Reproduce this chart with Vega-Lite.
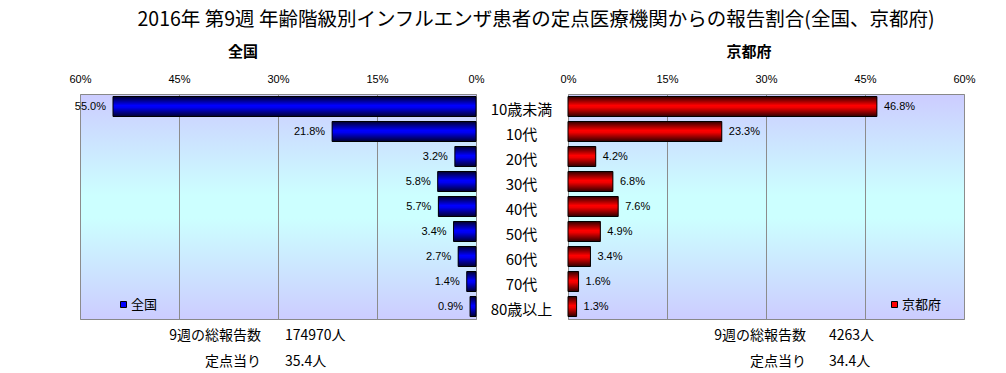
{
  "$schema": "https://vega.github.io/schema/vega-lite/v6.json",
  "background": "white",
  "padding": {"left": 68, "top": 10, "right": 5, "bottom": 0},
  "title": {"text": "2016年 第9週 年齢階級別インフルエンザ患者の定点医療機関からの報告割合(全国、京都府)", "anchor": "middle", "dx": 14, "font": "Noto Sans CJK JP", "fontSize": 19.5, "fontWeight": "normal", "color": "#000", "offset": 14},
  "datasets": {
    "main": [
      {"region": "全国", "age": "10歳未満", "pct": 0.550},
      {"region": "全国", "age": "10代", "pct": 0.218},
      {"region": "全国", "age": "20代", "pct": 0.032},
      {"region": "全国", "age": "30代", "pct": 0.058},
      {"region": "全国", "age": "40代", "pct": 0.057},
      {"region": "全国", "age": "50代", "pct": 0.034},
      {"region": "全国", "age": "60代", "pct": 0.027},
      {"region": "全国", "age": "70代", "pct": 0.014},
      {"region": "全国", "age": "80歳以上", "pct": 0.009},
      {"region": "京都府", "age": "10歳未満", "pct": 0.468},
      {"region": "京都府", "age": "10代", "pct": 0.233},
      {"region": "京都府", "age": "20代", "pct": 0.042},
      {"region": "京都府", "age": "30代", "pct": 0.068},
      {"region": "京都府", "age": "40代", "pct": 0.076},
      {"region": "京都府", "age": "50代", "pct": 0.049},
      {"region": "京都府", "age": "60代", "pct": 0.034},
      {"region": "京都府", "age": "70代", "pct": 0.016},
      {"region": "京都府", "age": "80歳以上", "pct": 0.013}
    ],
    "totals": [
      {"region": "全国", "line": "1", "part": "label", "text": "9週の総報告数"},
      {"region": "全国", "line": "1", "part": "value", "text": "174970人"},
      {"region": "全国", "line": "2", "part": "label", "text": "定点当り"},
      {"region": "全国", "line": "2", "part": "value", "text": "35.4人"},
      {"region": "京都府", "line": "1", "part": "label", "text": "9週の総報告数"},
      {"region": "京都府", "line": "1", "part": "value", "text": "4263人"},
      {"region": "京都府", "line": "2", "part": "label", "text": "定点当り"},
      {"region": "京都府", "line": "2", "part": "value", "text": "34.4人"}
    ]
  },
  "bounds": "flush",
  "columns": 2,
  "spacing": {"row": 4, "column": 92},
  "resolve": {"scale": {"color": "independent"}, "legend": {"color": "independent"}},
  "concat": [
    {
      "width": 396, "height": 225,
      "data": {"name": "main"},
      "transform": [{"filter": "datum.region === '全国'"}],
      "title": {"text": "全国", "dx": -35, "font": "Noto Sans CJK JP", "fontSize": 15, "fontWeight": "bold", "color": "#000", "offset": 13},
      "encoding": {
        "y": {"field": "age", "type": "nominal", "sort": null, "scale": {"paddingInner": 0.2, "paddingOuter": 0.1},
          "axis": {"orient": "right", "title": null, "ticks": false, "domain": false, "grid": false, "labelAlign": "center", "labelBaseline": "middle", "labelPadding": 45, "labelOffset": 3, "labelFont": "Noto Sans CJK JP", "labelFontSize": 15, "labelColor": "#000"}},
        "x": {"field": "pct", "type": "quantitative", "scale": {"domain": [0, 0.6], "reverse": true, "nice": false},
          "axis": {"orient": "top", "title": null, "values": [0, 0.15, 0.3, 0.45, 0.6], "format": ".0%", "ticks": false, "domain": false, "labelPadding": 10, "labelFlush": false, "labelFont": "Liberation Sans", "labelFontSize": 11, "labelColor": "#000", "grid": true, "gridColor": "#8c8c8c", "gridWidth": 1}}
      },
      "layer": [
        {"mark": {"type": "bar"},
          "encoding": {"color": {"field": "region", "type": "nominal", "scale": {"range": ["#0000ff"]},
            "legend": {"title": null, "orient": "none", "legendX": 37, "legendY": 204, "padding": 0, "symbolType": "square", "symbolSize": 36, "symbolStrokeColor": "#000", "symbolStrokeWidth": 1, "symbolOffset": 0, "labelOffset": 1, "labelFont": "Noto Sans CJK JP", "labelFontSize": 13, "labelColor": "#000",
              "encode": {"symbols": {"update": {"stroke": {"value": "#000"}, "strokeWidth": {"value": 1}}}}}}}},
        {"mark": {"type": "bar", "stroke": "#000", "strokeWidth": 1,
          "fill": {"gradient": "linear", "x1": 0, "y1": 0, "x2": 0, "y2": 1, "stops": [{"offset": 0, "color": "#000030"}, {"offset": 0.45, "color": "#0000ff"}, {"offset": 0.55, "color": "#0000f0"}, {"offset": 1, "color": "#000030"}]}}},
        {"mark": {"type": "text", "align": "right", "baseline": "middle", "dx": -7, "font": "Liberation Sans", "fontSize": 11, "color": "#000"},
          "encoding": {"text": {"field": "pct", "type": "quantitative", "format": ".1%"}}}
      ]
    },
    {
      "width": 396, "height": 225,
      "data": {"name": "main"},
      "transform": [{"filter": "datum.region === '京都府'"}],
      "title": {"text": "京都府", "dx": -17, "font": "Noto Sans CJK JP", "fontSize": 15, "fontWeight": "bold", "color": "#000", "offset": 13},
      "encoding": {
        "y": {"field": "age", "type": "nominal", "sort": null, "scale": {"paddingInner": 0.2, "paddingOuter": 0.1}, "axis": null},
        "x": {"field": "pct", "type": "quantitative", "scale": {"domain": [0, 0.6], "nice": false},
          "axis": {"orient": "top", "title": null, "values": [0, 0.15, 0.3, 0.45, 0.6], "format": ".0%", "ticks": false, "domain": false, "labelPadding": 10, "labelFlush": false, "labelFont": "Liberation Sans", "labelFontSize": 11, "labelColor": "#000", "grid": true, "gridColor": "#8c8c8c", "gridWidth": 1}}
      },
      "layer": [
        {"mark": {"type": "bar"},
          "encoding": {"color": {"field": "region", "type": "nominal", "scale": {"range": ["#ff0000"]},
            "legend": {"title": null, "orient": "none", "legendX": 320, "legendY": 204, "padding": 0, "symbolType": "square", "symbolSize": 36, "symbolStrokeColor": "#000", "symbolStrokeWidth": 1, "symbolOffset": 0, "labelOffset": 1, "labelFont": "Noto Sans CJK JP", "labelFontSize": 13, "labelColor": "#000",
              "encode": {"symbols": {"update": {"stroke": {"value": "#000"}, "strokeWidth": {"value": 1}}}}}}}},
        {"mark": {"type": "bar", "stroke": "#000", "strokeWidth": 1,
          "fill": {"gradient": "linear", "x1": 0, "y1": 0, "x2": 0, "y2": 1, "stops": [{"offset": 0, "color": "#300000"}, {"offset": 0.45, "color": "#ff0000"}, {"offset": 0.55, "color": "#f00000"}, {"offset": 1, "color": "#300000"}]}}},
        {"mark": {"type": "text", "align": "left", "baseline": "middle", "dx": 7, "font": "Liberation Sans", "fontSize": 11, "color": "#000"},
          "encoding": {"text": {"field": "pct", "type": "quantitative", "format": ".1%"}}}
      ]
    },
    {
      "width": 396, "height": 50,
      "view": {"stroke": null, "fill": null},
      "data": {"name": "totals"},
      "transform": [{"filter": "datum.region === '全国'"}],
      "encoding": {
        "y": {"field": "line", "type": "ordinal", "scale": {"type": "point", "range": [13, 39], "padding": 0}, "axis": null},
        "x": {"field": "part", "type": "nominal", "scale": {"type": "point", "domain": ["label", "value"], "range": [181, 205], "padding": 0}, "axis": null},
        "text": {"field": "text"}
      },
      "layer": [
        {"transform": [{"filter": "datum.part === 'label'"}], "mark": {"type": "text", "align": "right", "baseline": "middle", "font": "Noto Sans CJK JP", "fontSize": 14, "color": "#000"}},
        {"transform": [{"filter": "datum.part === 'value'"}], "mark": {"type": "text", "align": "left", "baseline": "middle", "font": "Noto Sans CJK JP", "fontSize": 14, "color": "#000"}}
      ]
    },
    {
      "width": 396, "height": 50,
      "view": {"stroke": null, "fill": null},
      "data": {"name": "totals"},
      "transform": [{"filter": "datum.region === '京都府'"}],
      "encoding": {
        "y": {"field": "line", "type": "ordinal", "scale": {"type": "point", "range": [13, 39], "padding": 0}, "axis": null},
        "x": {"field": "part", "type": "nominal", "scale": {"type": "point", "domain": ["label", "value"], "range": [238, 261], "padding": 0}, "axis": null},
        "text": {"field": "text"}
      },
      "layer": [
        {"transform": [{"filter": "datum.part === 'label'"}], "mark": {"type": "text", "align": "right", "baseline": "middle", "font": "Noto Sans CJK JP", "fontSize": 14, "color": "#000"}},
        {"transform": [{"filter": "datum.part === 'value'"}], "mark": {"type": "text", "align": "left", "baseline": "middle", "font": "Noto Sans CJK JP", "fontSize": 14, "color": "#000"}}
      ]
    }
  ],
  "config": {
    "view": {"stroke": "#888888", "strokeWidth": 1,
      "fill": {"gradient": "linear", "x1": 0, "y1": 0, "x2": 0, "y2": 1, "stops": [{"offset": 0, "color": "#ccccff"}, {"offset": 0.45, "color": "#ccffff"}, {"offset": 0.55, "color": "#ccffff"}, {"offset": 1, "color": "#ccccff"}]}}
  }
}
